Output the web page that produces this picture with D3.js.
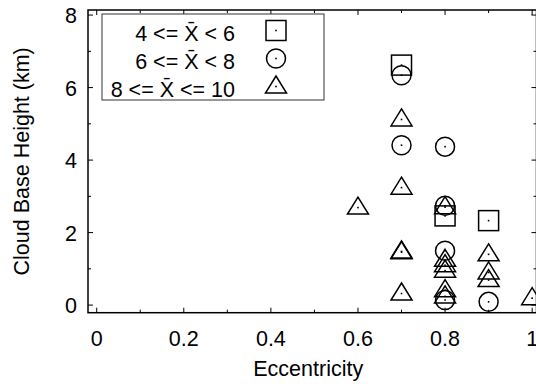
<!DOCTYPE html>
<html>
<head>
<meta charset="utf-8">
<script src="https://cdn.jsdelivr.net/npm/d3@7"></script>
<style>
  html, body { margin: 0; padding: 0; background: #ffffff; }
  svg { display: block; }
  text { font-family: "Liberation Sans", Arial, Helvetica, sans-serif; fill: #000; }
</style>
</head>
<body>
<div id="chart"></div>
<script>
// 4 <= X < 6 (squares)
const sqEcc    = [0.7, 0.8, 0.9];
const sqHeight = [6.62, 2.46, 2.33];
// 6 <= X < 8 (circles)
const ciEcc    = [0.7, 0.7, 0.8, 0.8, 0.8, 0.8, 0.9];
const ciHeight = [6.34, 4.41, 4.37, 2.74, 1.5, 0.14, 0.09];
// 8 <= X <= 10 (triangles)
const trEcc    = [0.6, 0.7, 0.7, 0.7, 0.7, 0.7, 0.8, 0.8, 0.8, 0.8, 0.8, 0.8, 0.9, 0.9, 0.9, 1.0];
const trHeight = [2.69, 5.12, 3.24, 1.46, 1.48, 0.32, 2.7, 1.25, 1.1, 0.95, 0.41, 0.24, 1.40, 0.90, 0.69, 0.19];

const xTicks = [0, 0.2, 0.4, 0.6, 0.8, 1];
const xMinor = [0.1, 0.3, 0.5, 0.7, 0.9];
const yTicks = [0, 2, 4, 6, 8];
const yMinor = [1, 3, 5, 7];
const legendLabels = ['4 <= X\u0304 < 6', '6 <= X\u0304 < 8', '8 <= X\u0304 <= 10'];

const W = 536, H = 384;
const pLeft = 88, pRight = 536.5, pTop = 10, pBottom = 312.7;
const FS = 21.5;

const x = d3.scaleLinear().domain([-0.02, 1.01]).range([pLeft, pRight]);
const y = d3.scaleLinear().domain([-0.21, 8.14]).range([pBottom, pTop]);

const svg = d3.select('#chart').append('svg')
  .attr('width', W).attr('height', H);

// marker shapes
const SQ = 10, CR = 9.5;
const triPath = 'M0,-10.5L10.5,6.5L-10.5,6.5Z';
function drawMarker(g, kind) {
  if (kind === 'sq') {
    g.append('rect').attr('x', -SQ).attr('y', -SQ).attr('width', 2 * SQ).attr('height', 2 * SQ);
  } else if (kind === 'ci') {
    g.append('circle').attr('r', CR);
  } else {
    g.append('path').attr('d', triPath);
  }
  g.selectAll('rect, circle, path')
    .attr('fill', 'none').attr('stroke', '#000').attr('stroke-width', 1.5);
  g.append('rect').attr('x', -0.8).attr('y', -0.8).attr('width', 1.6).attr('height', 1.6).attr('fill', '#000');
}

// ticks (inward, mirrored)
const tk = svg.append('g').attr('stroke', '#000').attr('stroke-width', 1);
xTicks.concat(xMinor).forEach(v => {
  const len = xTicks.includes(v) ? 5 : 3;
  tk.append('line').attr('x1', x(v)).attr('x2', x(v)).attr('y1', pBottom).attr('y2', pBottom - len);
  tk.append('line').attr('x1', x(v)).attr('x2', x(v)).attr('y1', pTop).attr('y2', pTop + len);
});
yTicks.concat(yMinor).forEach(v => {
  const len = yTicks.includes(v) ? 5 : 3;
  tk.append('line').attr('x1', pLeft).attr('x2', pLeft + len).attr('y1', y(v)).attr('y2', y(v));
  tk.append('line').attr('x1', pRight).attr('x2', pRight - len).attr('y1', y(v)).attr('y2', y(v));
});

// frame
svg.append('rect')
  .attr('x', pLeft).attr('y', pTop).attr('width', pRight - pLeft).attr('height', pBottom - pTop)
  .attr('fill', 'none').attr('stroke', '#000').attr('stroke-width', 1.5);

// tick labels
svg.append('g').selectAll('text').data(xTicks).join('text')
  .attr('x', d => x(d)).attr('y', pBottom + 33.5)
  .attr('text-anchor', 'middle').attr('font-size', FS)
  .text(d => String(d));
svg.append('g').selectAll('text').data(yTicks).join('text')
  .attr('x', pLeft - 11).attr('y', d => y(d) + 8)
  .attr('text-anchor', 'end').attr('font-size', FS)
  .text(d => String(d));

// axis titles
svg.append('text').attr('x', (pLeft + pRight) / 2 - 4).attr('y', 376)
  .attr('text-anchor', 'middle').attr('font-size', FS).text('Eccentricity');
svg.append('text').attr('transform', `translate(29,${(pTop + pBottom) / 2}) rotate(-90)`)
  .attr('text-anchor', 'middle').attr('font-size', FS).text('Cloud Base Height (km)');

// points
const plot = svg.append('g');
function series(ecc, h, kind) {
  ecc.forEach((e, i) => {
    const g = plot.append('g').attr('transform', `translate(${x(e)},${y(h[i])})`);
    drawMarker(g, kind);
  });
}
series(sqEcc, sqHeight, 'sq');
series(ciEcc, ciHeight, 'ci');
series(trEcc, trHeight, 'tr');

// legend
const lg = svg.append('g');
lg.append('rect').attr('x', 102).attr('y', 14).attr('width', 222).attr('height', 86)
  .attr('fill', '#fff').attr('stroke', '#333').attr('stroke-width', 1);
const kinds = ['sq', 'ci', 'tr'];
legendLabels.forEach((t, i) => {
  lg.append('text').attr('x', 235).attr('y', 40.5 + i * 28)
    .attr('text-anchor', 'end').attr('font-size', FS).text(t);
  const g = lg.append('g').attr('transform', `translate(276,${30.5 + i * 28})`);
  drawMarker(g, kinds[i]);
});
</script>
</body>
</html>
